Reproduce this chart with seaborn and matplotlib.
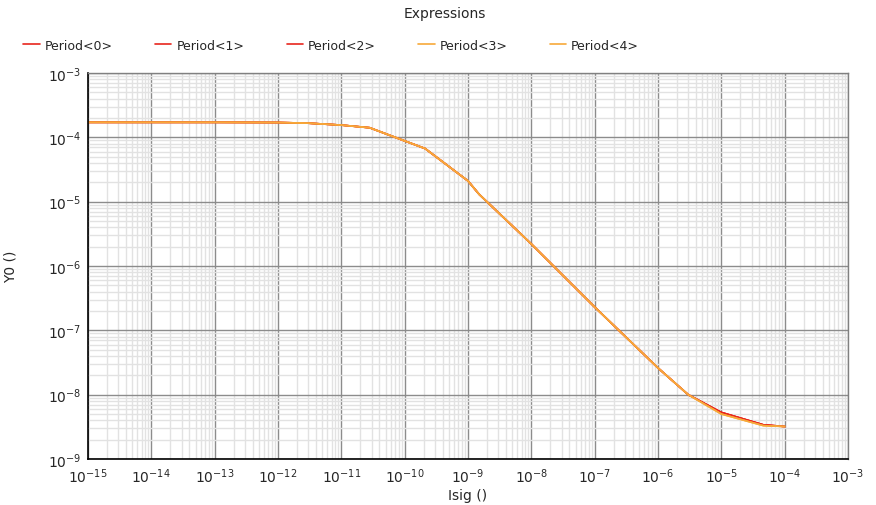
import numpy as np
import pandas as pd
import matplotlib
matplotlib.use("Agg")
import matplotlib.pyplot as plt
import seaborn as sns
from matplotlib.ticker import LogLocator, NullFormatter
from matplotlib.lines import Line2D

# ---- data ----
isig = [1e-15, 1e-14, 1e-13, 1e-12, 3e-12, 1e-11, 2.8e-11, 1e-10, 2.1e-10,
        1e-9, 1.5e-9, 1e-8, 1e-7, 1e-6, 3e-6, 1e-5, 4.6e-5, 1e-4]
y_red = [1.71e-4, 1.71e-4, 1.71e-4, 1.7e-4, 1.66e-4, 1.55e-4, 1.41e-4, 8.8e-5, 6.7e-5,
         2.1e-5, 1.3e-5, 2.2e-6, 2.3e-7, 2.6e-8, 1.0e-8, 5.3e-9, 3.4e-9, 3.2e-9]
y_orange = [1.71e-4, 1.71e-4, 1.71e-4, 1.7e-4, 1.66e-4, 1.55e-4, 1.41e-4, 8.8e-5, 6.7e-5,
            2.1e-5, 1.3e-5, 2.2e-6, 2.3e-7, 2.6e-8, 1.0e-8, 5.0e-9, 3.3e-9, 3.2e-9]
series_names = ["Period<0>", "Period<1>", "Period<2>", "Period<3>", "Period<4>"]
series_values = [y_red, y_red, y_red, y_orange, y_orange]
series_colors = ["#e8261e", "#e8261e", "#e8261e", "#f7a93a", "#f7a93a"]

rows = []
for name, ys in zip(series_names, series_values):
    for xv, yv in zip(isig, ys):
        rows.append({"Isig": xv, "Y0": yv, "series": name})
df = pd.DataFrame(rows)

sns.set_style("white")
plt.rcParams["font.family"] = ["DejaVu Sans"]

fig = plt.figure(figsize=(8.76, 5.06), dpi=100)
ax = fig.add_axes([88/876, 1 - 460/506, (848-88)/876, (460-74)/506])

sns.lineplot(data=df, x="Isig", y="Y0", hue="series", palette=dict(zip(series_names, series_colors)),
             ax=ax, linewidth=1.2, legend=False, estimator=None, sort=False)

ax.set_xscale("log")
ax.set_yscale("log")
ax.set_xlim(1e-15, 1e-3)
ax.set_ylim(1e-9, 1e-3)
ax.xaxis.set_major_locator(LogLocator(base=10, numticks=20))
ax.yaxis.set_major_locator(LogLocator(base=10, numticks=20))
ax.xaxis.set_minor_locator(LogLocator(base=10, subs=np.arange(2, 10), numticks=200))
ax.yaxis.set_minor_locator(LogLocator(base=10, subs=np.arange(2, 10), numticks=200))
ax.xaxis.set_minor_formatter(NullFormatter())
ax.yaxis.set_minor_formatter(NullFormatter())

ax.grid(True, which="minor", color="#e2e2e2", linewidth=1.0, linestyle="-")
ax.grid(True, which="major", color="#8c8c8c", linewidth=1.0, linestyle="-")
ax.set_axisbelow(True)

for side in ["left", "bottom"]:
    ax.spines[side].set_color("black")
    ax.spines[side].set_linewidth(1.2)
for side in ["top", "right"]:
    ax.spines[side].set_color("#808080")
    ax.spines[side].set_linewidth(1.0)

ax.tick_params(axis="both", which="major", labelsize=10, length=4, width=1, color="black", pad=1)
ax.tick_params(axis="x", which="major", pad=5)
ax.tick_params(axis="both", which="minor", length=2.5, width=0.8, color="black")
ax.tick_params(axis="x", which="both", direction="in")
ax.tick_params(axis="y", which="both", direction="out")
for lbl in ax.get_yticklabels():
    lbl.set_verticalalignment("center_baseline")

ax.set_xlabel("Isig ()", fontsize=10)
ax.xaxis.set_label_coords((468-88)/760, -0.075)
ax.set_ylabel("Y0 ()", fontsize=10)
ax.yaxis.set_label_coords(-(88-18)/760, 0.5)

fig.text(445/876, 1 - 14/506, "Expressions", ha="center", va="center", fontsize=10)

handles = [Line2D([0], [0], color=c, linewidth=1.2) for c in series_colors]
fig.legend(handles, series_names, loc="center left", bbox_to_anchor=(12/876, 1 - 46/506),
           ncol=5, frameon=False, fontsize=9, handlelength=1.3, handletextpad=0.4,
           columnspacing=3.4)

fig.savefig("out.png", dpi=100)
